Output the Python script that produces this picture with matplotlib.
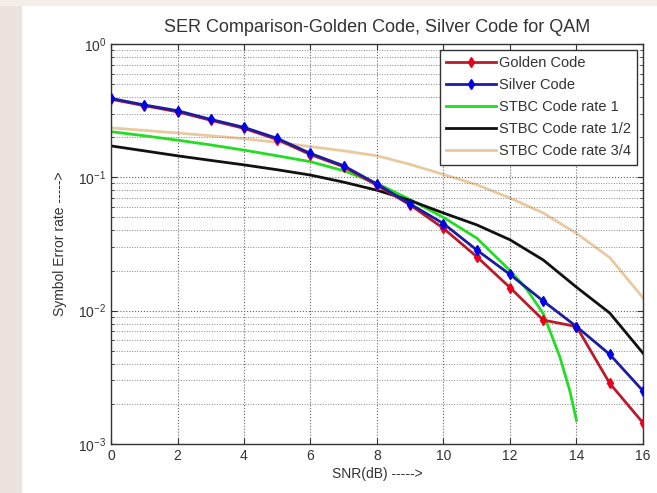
import matplotlib
matplotlib.use("Agg")
import matplotlib.pyplot as plt
from matplotlib.patches import Rectangle
from matplotlib.ticker import LogLocator, FixedLocator, NullFormatter

plt.rcParams['font.family'] = ['Liberation Sans', 'DejaVu Sans']
plt.rcParams['mathtext.default'] = 'regular'

snr = list(range(0, 17))
golden = [0.385, 0.345, 0.31, 0.268, 0.233, 0.192, 0.148, 0.12, 0.087,
          0.062, 0.0414, 0.0254, 0.0149, 0.0085, 0.0076, 0.00285, 0.00144]
silver = [0.391, 0.349, 0.316, 0.272, 0.237, 0.196, 0.151, 0.122, 0.089,
          0.063, 0.045, 0.0285, 0.0187, 0.0118, 0.0076, 0.0047, 0.0025]
snr_r1 = [0, 1, 2, 3, 4, 5, 6, 7, 8, 9, 10, 11, 12, 12.5, 13, 13.5, 13.8, 14]
stbc_r1 = [0.22, 0.205, 0.19, 0.175, 0.16, 0.145, 0.131, 0.112, 0.09, 0.068,
           0.05, 0.035, 0.020, 0.0145, 0.0095, 0.0045, 0.0025, 0.0015]
stbc_r12 = [0.172, 0.158, 0.145, 0.134, 0.124, 0.114, 0.104, 0.092, 0.08,
            0.067, 0.054, 0.044, 0.034, 0.024, 0.015, 0.0096, 0.0048]
stbc_r34 = [0.235, 0.225, 0.215, 0.205, 0.195, 0.183, 0.17, 0.158, 0.145,
            0.125, 0.105, 0.088, 0.07, 0.054, 0.038, 0.025, 0.0125]

labels = ['Golden Code', 'Silver Code', 'STBC Code rate 1',
          'STBC Code rate 1/2', 'STBC Code rate 3/4']
xticks = [0, 2, 4, 6, 8, 10, 12, 14, 16]

fig = plt.figure(figsize=(6.57, 4.93), dpi=100)
fig.patch.set_facecolor('white')
# faint background strips of the source image
fig.patches.append(Rectangle((0, 0), 22 / 657, 1, transform=fig.transFigure,
                             facecolor='#ece2de', edgecolor='none', zorder=-10))
fig.patches.append(Rectangle((0, 1 - 6 / 493), 1, 6 / 493, transform=fig.transFigure,
                             facecolor='#f5eee8', edgecolor='none', zorder=-10))

ax = fig.add_axes([111 / 657, 1 - 444 / 493, 532 / 657, 400 / 493])
ax.set_yscale('log')
ax.set_xlim(0, 16)
ax.set_ylim(1e-3, 1e0)

ax.plot(snr, golden, '-', color='#b81c2c', lw=2.0, marker='d', ms=5,
        mfc='#e8001a', mec='#e8001a', label=labels[0], zorder=3)
ax.plot(snr, silver, '-', color='#1c1ca0', lw=2.0, marker='d', ms=5,
        mfc='#0000e8', mec='#0000e8', label=labels[1], zorder=4)
ax.plot(snr_r1, stbc_r1, '-', color='#22dd22', lw=2.0, label=labels[2], zorder=2)
ax.plot(snr, stbc_r12, '-', color='#111111', lw=2.0, label=labels[3], zorder=2)
ax.plot(snr, stbc_r34, '-', color='#e8c9a0', lw=2.0, label=labels[4], zorder=1)

ax.xaxis.set_major_locator(FixedLocator(xticks))
ax.set_xticklabels([str(v) for v in xticks])
ax.yaxis.set_major_locator(LogLocator(base=10, numticks=10))
ax.yaxis.set_minor_locator(LogLocator(base=10, subs=range(2, 10), numticks=20))
ax.yaxis.set_minor_formatter(NullFormatter())

ax.grid(True, which='major', linestyle=':', color='#666666', lw=0.8)
ax.grid(True, which='minor', axis='y', linestyle=':', color='#888888', lw=0.7)
ax.tick_params(which='both', direction='in', top=True, right=True,
               labelsize=10, colors='#333333', length=4)
ax.tick_params(which='minor', length=2)
for s in ax.spines.values():
    s.set_color('#333333')
    s.set_linewidth(1.0)

ax.set_title('SER Comparison-Golden Code, Silver Code for QAM',
             fontsize=13, color='#333333', pad=9)
ax.set_xlabel('SNR(dB) ----->', fontsize=10, color='#333333', labelpad=3)
ax.set_ylabel('Symbol Error rate ----->', fontsize=10, color='#333333', labelpad=8)

leg = ax.legend(loc='upper right', fontsize=10.5, handlelength=3.4,
                labelspacing=0.55, borderaxespad=0.4, fancybox=False,
                framealpha=1, edgecolor='#333333', borderpad=0.45,
                handletextpad=0.2)
leg.get_frame().set_linewidth(1.0)
for t in leg.get_texts():
    t.set_color('#333333')

fig.savefig('out.png', dpi=100, facecolor=fig.get_facecolor())
